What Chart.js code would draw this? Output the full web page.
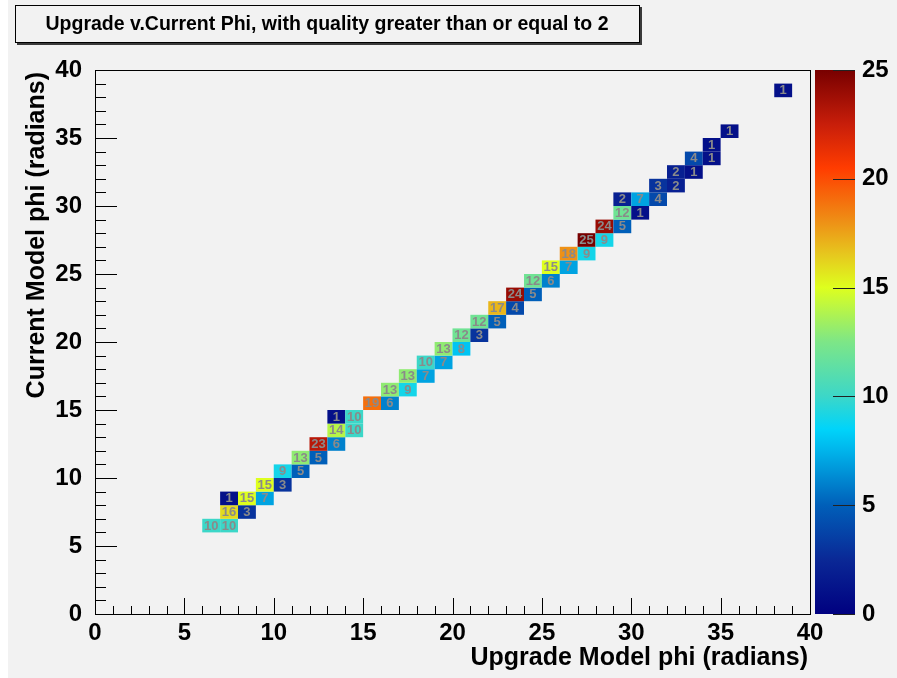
<!DOCTYPE html>
<html>
<head>
<meta charset="utf-8">
<title>Upgrade v.Current Phi</title>
<script src="https://cdn.jsdelivr.net/npm/chart.js@4.4.0/dist/chart.umd.min.js"></script>
<style>
  html, body { margin: 0; padding: 0; background: #ffffff; }
  #wrap { width: 897px; height: 678px; }
</style>
</head>
<body>
<div id="wrap"><canvas id="phi-chart" width="897" height="678"></canvas></div>
<script>
// 2D histogram: lower edge of each filled bin (bin width 1) and its entries
const upgradeBins = [6, 7, 7, 8, 7, 8, 9, 9, 10, 10, 11, 11, 12, 12, 13, 13, 14, 13, 14,
  15, 16, 16, 17, 17, 18, 18, 19, 19, 20, 20, 21, 21, 22, 22, 23, 23, 24, 24, 25, 25, 26,
  26, 27, 27, 28, 28, 29, 29, 30, 29, 30, 31, 31, 32, 32, 33, 33, 34, 34, 35, 38];
const currentBins = [6, 6, 7, 7, 8, 8, 8, 9, 9, 10, 10, 11, 11, 12, 12, 13, 13, 14, 14,
  15, 15, 16, 16, 17, 17, 18, 18, 19, 19, 20, 20, 21, 21, 22, 22, 23, 23, 24, 24, 25, 25,
  26, 26, 27, 27, 28, 28, 29, 29, 30, 30, 30, 31, 31, 32, 32, 33, 33, 34, 35, 38];
const entries = [10, 10, 16, 3, 1, 15, 7, 15, 3, 9, 5, 13, 5, 23, 6, 14, 10, 1, 10,
  19, 6, 13, 9, 13, 7, 10, 7, 13, 8, 12, 3, 12, 5, 17, 4, 24, 5, 12, 6, 15, 7,
  18, 9, 25, 9, 24, 5, 12, 1, 2, 7, 4, 3, 2, 2, 1, 4, 1, 1, 1, 1];

const axisTicks = [0, 5, 10, 15, 20, 25, 30, 35, 40];
const zTicks = [0, 5, 10, 15, 20, 25];
const zMax = 25;

const titleText = 'Upgrade v.Current Phi, with quality greater than or equal to 2';
const xTitle = 'Upgrade Model phi (radians)';
const yTitle = 'Current Model phi (radians)';

// rainbow palette, [value, r, g, b]
const palette = [
  [0, 0, 0, 128], [2.5, 10, 40, 150], [5, 0, 95, 185], [7.5, 0, 180, 235],
  [8.5, 0, 212, 250], [10, 60, 215, 200], [12.5, 125, 230, 135], [15, 222, 255, 30],
  [16.5, 230, 200, 30], [18, 238, 145, 22], [20.5, 255, 60, 0], [22.5, 200, 30, 10],
  [25, 120, 0, 0]
];

function paletteColor(v) {
  if (v <= palette[0][0]) return `rgb(${palette[0].slice(1).join(',')})`;
  for (let i = 1; i < palette.length; i++) {
    const a = palette[i - 1], b = palette[i];
    if (v <= b[0]) {
      const t = (v - a[0]) / (b[0] - a[0]);
      const c = [1, 2, 3].map(k => Math.round(a[k] + (b[k] - a[k]) * t));
      return `rgb(${c.join(',')})`;
    }
  }
  return `rgb(${palette[palette.length - 1].slice(1).join(',')})`;
}

const FONT = "'Liberation Sans', Arial, Helvetica, sans-serif";
const BG = '#f2f2f2';

// page background and the title box
const backgroundPlugin = {
  id: 'rootBackground',
  beforeDraw(chart) {
    const ctx = chart.ctx;
    ctx.save();
    ctx.fillStyle = '#ffffff';
    ctx.fillRect(0, 0, chart.width, chart.height);
    ctx.fillStyle = BG;
    ctx.fillRect(8, 0, chart.width - 8, chart.height);
    ctx.restore();
  },
  afterDraw(chart) {
    const ctx = chart.ctx;
    ctx.save();
    // shadow, then box
    ctx.fillStyle = '#3a3a3a';
    ctx.fillRect(17, 7, 625, 38);
    ctx.fillStyle = BG;
    ctx.fillRect(15, 5, 625, 38);
    ctx.strokeStyle = '#000';
    ctx.lineWidth = 1;
    ctx.strokeRect(15.5, 5.5, 624, 37);
    ctx.fillStyle = '#000';
    ctx.font = `bold 19.5px ${FONT}`;
    ctx.textAlign = 'center';
    ctx.textBaseline = 'middle';
    ctx.fillText(titleText, 327, 25);
    ctx.restore();
  }
};

// filled bins with their entries printed on top
const cellPlugin = {
  id: 'cells',
  afterDatasetsDraw(chart) {
    const { ctx, scales: { x, y } } = chart;
    const pts = chart.data.datasets[0].data;
    ctx.save();
    ctx.font = `bold 13px ${FONT}`;
    ctx.textAlign = 'center';
    ctx.textBaseline = 'middle';
    pts.forEach(p => {
      const x0 = x.getPixelForValue(p.x);
      const x1 = x.getPixelForValue(p.x + 1);
      const y0 = y.getPixelForValue(p.y + 1);
      const y1 = y.getPixelForValue(p.y);
      ctx.fillStyle = paletteColor(p.v);
      ctx.fillRect(x0, y0, x1 - x0, y1 - y0);
    });
    ctx.fillStyle = '#8a8a8a';
    pts.forEach(p => {
      const cx = (x.getPixelForValue(p.x) + x.getPixelForValue(p.x + 1)) / 2;
      const cy = (y.getPixelForValue(p.y) + y.getPixelForValue(p.y + 1)) / 2;
      ctx.fillText(String(p.v), cx, cy + 0.5);
    });
    ctx.restore();
  }
};

// frame, inward tick marks, colour bar and axis titles
const framePlugin = {
  id: 'frame',
  afterDraw(chart) {
    const { ctx, chartArea: a, scales: { x, y, z } } = chart;
    ctx.save();
    ctx.strokeStyle = '#000';
    ctx.lineWidth = 1;
    ctx.strokeRect(Math.round(a.left) + 0.5, Math.round(a.top) + 0.5,
      Math.round(a.right - a.left), Math.round(a.bottom - a.top));

    ctx.beginPath();
    for (let v = 0; v <= 40; v++) {
      const major = v % 5 === 0;
      const px = Math.round(x.getPixelForValue(v)) + 0.5;
      ctx.moveTo(px, a.bottom);
      ctx.lineTo(px, a.bottom - (major ? 16 : 8));
      const py = Math.round(y.getPixelForValue(v)) + 0.5;
      ctx.moveTo(a.left, py);
      ctx.lineTo(a.left + (major ? 22 : 11), py);
    }
    ctx.stroke();

    // colour bar
    const barL = a.right + 5, barR = a.right + 45;
    const top = z.getPixelForValue(zMax), bot = z.getPixelForValue(0);
    const grad = ctx.createLinearGradient(0, bot, 0, top);
    palette.forEach(s => grad.addColorStop(s[0] / zMax, `rgb(${s[1]},${s[2]},${s[3]})`));
    ctx.fillStyle = grad;
    ctx.fillRect(barL, top, barR - barL, bot - top);
    ctx.strokeStyle = '#222';
    ctx.beginPath();
    zTicks.forEach(v => {
      const py = Math.round(z.getPixelForValue(v)) + 0.5;
      ctx.moveTo(barR, py);
      ctx.lineTo(barR - 22, py);
    });
    ctx.stroke();

    // axis titles
    ctx.fillStyle = '#000';
    ctx.font = `bold 25px ${FONT}`;
    ctx.textAlign = 'right';
    ctx.textBaseline = 'middle';
    ctx.fillText(xTitle, a.right - 2, 658);
    ctx.translate(37, a.top + 2);
    ctx.rotate(-Math.PI / 2);
    ctx.fillText(yTitle, 0, 0);
    ctx.restore();
  }
};

const points = upgradeBins.map((bx, i) => ({ x: bx, y: currentBins[i], v: entries[i] }));

Chart.defaults.font.family = FONT;

new Chart(document.getElementById('phi-chart'), {
  type: 'scatter',
  data: {
    datasets: [{
      label: 'entries',
      data: points,
      pointRadius: 0,
      pointHoverRadius: 0
    }]
  },
  options: {
    responsive: false,
    animation: false,
    devicePixelRatio: 1,
    layout: { padding: { top: 70, left: 0, right: 0, bottom: 0 } },
    plugins: { legend: { display: false }, tooltip: { enabled: false } },
    scales: {
      x: {
        type: 'linear', min: 0, max: 40,
        afterFit: s => { s.height = 64; },
        afterBuildTicks: s => { s.ticks = axisTicks.map(v => ({ value: v })); },
        grid: { display: false },
        border: { display: false },
        ticks: { color: '#000', font: { size: 24, weight: 'bold' }, padding: -3, maxRotation: 0 }
      },
      y: {
        type: 'linear', min: 0, max: 40,
        afterFit: s => { s.width = 95; },
        afterBuildTicks: s => { s.ticks = axisTicks.map(v => ({ value: v })); },
        grid: { display: false },
        border: { display: false },
        ticks: { color: '#000', font: { size: 24, weight: 'bold' }, padding: 5 }
      },
      z: {
        axis: 'y', type: 'linear', position: 'right', min: 0, max: zMax,
        afterFit: s => { s.width = 87; },
        afterBuildTicks: s => { s.ticks = zTicks.map(v => ({ value: v })); },
        grid: { display: false },
        border: { display: false },
        ticks: { color: '#000', font: { size: 24, weight: 'bold' }, padding: 44 }
      }
    }
  },
  plugins: [backgroundPlugin, cellPlugin, framePlugin]
});
</script>
</body>
</html>
